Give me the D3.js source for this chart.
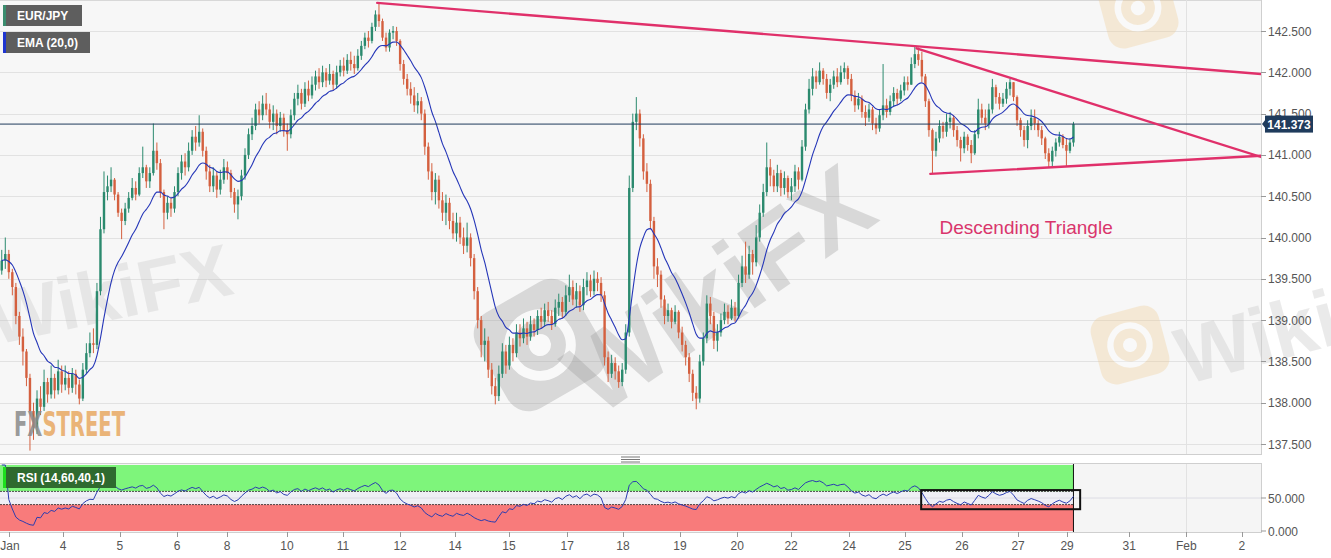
<!DOCTYPE html>
<html><head><meta charset="utf-8">
<script src="https://cdn.jsdelivr.net/npm/d3@7/dist/d3.min.js"></script>
<style>body{margin:0;background:#fff;overflow:hidden}svg{display:block;font-family:Arial,"Liberation Sans",sans-serif}</style>
</head><body><svg id="c" width="1331" height="558"></svg>
<script>
// ---------- DATA ----------
const symbol = "EUR/JPY";
const emaLabel = "EMA (20,0)";
const rsiLabel = "RSI (14,60,40,1)";
const firstOpen = 139.60;
const closes = [
139.72,139.80,139.58,139.40,139.05,138.80,138.62,138.30,137.90,137.70,
138.05,137.95,138.25,138.10,138.30,138.15,138.38,138.22,138.30,138.18,
138.35,138.22,138.05,138.40,138.60,138.72,138.70,139.35,140.10,140.55,
140.62,140.70,140.52,140.30,140.20,140.35,140.48,140.60,140.52,140.78,
140.85,140.68,140.78,141.05,140.90,140.55,140.30,140.42,140.35,140.55,
140.78,140.92,140.85,141.05,141.22,141.15,141.28,141.05,140.80,140.62,
140.75,140.58,140.70,140.85,140.78,140.55,140.40,140.50,140.75,141.00,
141.25,141.35,141.55,141.48,141.62,141.55,141.40,141.50,141.35,141.45,
141.30,141.25,141.48,141.68,141.75,141.62,141.80,141.72,141.85,141.95,
141.88,142.00,141.90,141.98,141.85,142.00,142.08,142.02,142.15,142.10,
142.05,142.20,142.32,142.42,142.38,142.55,142.70,142.62,142.42,142.30,
142.48,142.50,142.38,142.10,141.92,141.80,141.72,141.60,141.65,141.50,
141.10,140.80,140.55,140.70,140.45,140.30,140.42,140.20,140.05,140.18,
140.00,139.90,140.00,139.75,139.35,139.00,138.70,138.75,138.40,138.20,
138.08,138.35,138.62,138.45,138.70,138.60,138.85,138.78,138.90,138.80,
138.95,138.88,139.05,138.98,139.12,139.05,138.95,139.15,139.22,139.10,
139.30,139.40,139.25,139.35,139.18,139.40,139.48,139.35,139.50,139.45,
139.30,138.55,138.35,138.48,138.38,138.25,138.40,138.85,140.60,141.40,
141.50,141.20,140.80,140.65,140.20,139.65,139.55,139.25,139.05,139.12,
138.98,139.10,138.85,138.70,138.55,138.35,138.12,138.05,138.50,138.78,
139.20,139.05,138.75,138.85,139.00,139.10,139.02,139.15,139.05,139.45,
139.65,139.55,139.80,139.70,140.00,140.30,140.55,140.85,140.75,140.62,
140.78,140.60,140.72,140.55,140.62,140.80,140.70,141.10,141.55,141.80,
141.95,141.88,142.02,141.92,141.75,141.85,141.95,141.88,142.00,142.05,
141.92,141.72,141.60,141.68,141.52,141.45,141.55,141.38,141.32,141.48,
141.60,141.52,141.65,141.75,141.68,141.78,141.88,141.85,142.10,142.22,
142.15,141.95,141.65,141.30,141.05,141.20,141.35,141.28,141.40,141.45,
141.30,141.18,141.08,141.22,141.12,141.02,141.25,141.55,141.45,141.38,
141.55,141.82,141.70,141.62,141.68,141.80,141.88,141.70,141.42,141.30,
141.18,141.35,141.45,141.38,141.30,141.20,141.02,140.92,141.05,141.15,
141.22,141.12,141.05,141.15,141.373];
const highs = [
139.85,140.00,139.85,139.62,139.45,139.10,138.90,138.65,138.35,138.00,
138.15,138.20,138.40,138.30,138.45,138.35,138.52,138.45,138.45,138.38,
138.42,138.40,138.28,138.48,138.72,138.85,138.90,139.45,140.25,140.80,
140.75,140.85,140.72,140.55,140.35,140.42,140.55,140.72,140.68,140.85,
141.10,140.88,140.85,141.38,141.15,140.95,140.58,140.50,140.48,140.62,
140.85,141.00,141.02,141.15,141.30,141.35,141.48,141.32,141.10,140.88,
140.85,140.80,140.82,140.95,140.92,140.82,140.60,140.58,140.82,141.08,
141.32,141.45,141.62,141.65,141.72,141.75,141.62,141.60,141.55,141.52,
141.50,141.38,141.55,141.75,141.85,141.80,141.88,141.90,141.95,142.02,
142.05,142.08,142.05,142.10,142.02,142.08,142.15,142.18,142.22,142.25,
142.20,142.28,142.38,142.48,142.50,142.60,142.75,142.84,142.65,142.48,
142.52,142.56,142.55,142.40,142.15,141.98,141.88,141.82,141.75,141.70,
141.55,141.15,140.90,140.78,140.75,140.55,140.52,140.48,140.30,140.30,
140.25,140.12,140.18,140.05,139.80,139.40,139.05,138.90,138.80,138.48,
138.30,138.45,138.72,138.70,138.80,138.78,138.95,138.95,139.02,138.98,
139.05,139.02,139.12,139.15,139.20,139.22,139.12,139.25,139.32,139.28,
139.42,139.55,139.48,139.45,139.42,139.50,139.58,139.55,139.60,139.58,
139.52,139.35,138.62,138.58,138.55,138.45,138.48,138.95,140.75,141.50,
141.70,141.55,141.25,140.90,140.70,140.25,139.75,139.60,139.30,139.20,
139.15,139.18,139.12,138.92,138.75,138.60,138.40,138.20,138.58,138.85,
139.30,139.28,139.10,138.95,139.08,139.20,139.18,139.25,139.22,139.55,
139.78,139.95,139.90,139.85,140.15,140.40,140.65,141.15,140.95,140.82,
140.88,140.82,140.80,140.75,140.72,140.88,140.85,141.18,141.62,141.92,
142.05,142.02,142.12,142.05,141.98,141.92,142.02,142.05,142.08,142.12,
142.08,141.98,141.78,141.75,141.72,141.60,141.62,141.58,141.45,141.55,
142.10,141.68,141.72,141.82,141.80,141.85,141.95,141.95,142.18,142.32,
142.30,142.25,141.98,141.68,141.32,141.28,141.42,141.40,141.50,141.52,
141.48,141.35,141.22,141.28,141.25,141.18,141.30,141.68,141.62,141.55,
141.62,141.92,141.85,141.75,141.75,141.88,141.92,141.88,141.72,141.45,
141.35,141.42,141.55,141.55,141.42,141.35,141.22,141.08,141.10,141.20,
141.28,141.25,141.20,141.20,141.40];
const lows = [
139.55,139.62,139.50,139.30,138.95,138.70,138.45,138.20,137.42,137.55,
137.62,137.85,137.90,138.00,138.05,138.05,138.10,138.12,138.15,138.10,
138.12,138.10,137.98,138.02,138.35,138.55,138.60,138.65,139.30,140.05,
140.45,140.55,140.45,140.25,139.98,140.15,140.30,140.45,140.45,140.50,
140.72,140.60,140.60,140.75,140.82,140.48,140.10,140.22,140.25,140.30,
140.50,140.70,140.75,140.80,141.00,141.05,141.10,140.98,140.70,140.55,
140.55,140.48,140.52,140.65,140.70,140.48,140.30,140.22,140.45,140.70,
140.95,141.18,141.30,141.38,141.42,141.48,141.32,141.30,141.25,141.28,
141.22,141.05,141.20,141.42,141.60,141.55,141.58,141.65,141.68,141.78,
141.80,141.82,141.82,141.85,141.78,141.80,141.95,141.95,141.98,142.02,
141.98,142.02,142.15,142.28,142.30,142.35,142.50,142.55,142.38,142.25,
142.25,142.40,142.32,142.02,141.85,141.72,141.62,141.52,141.50,141.42,
141.00,140.70,140.45,140.40,140.35,140.20,140.15,140.10,139.98,139.95,
139.92,139.80,139.82,139.65,139.25,138.90,138.55,138.50,138.30,138.10,
137.98,138.02,138.30,138.35,138.40,138.50,138.55,138.68,138.72,138.70,
138.75,138.80,138.82,138.90,138.92,138.98,138.88,138.92,139.05,139.02,
139.05,139.22,139.18,139.15,139.10,139.12,139.30,139.28,139.30,139.35,
139.22,138.45,138.25,138.30,138.28,138.18,138.20,138.35,138.80,140.55,
141.30,141.10,140.70,140.55,140.10,139.50,139.40,139.15,138.95,138.98,
138.90,138.95,138.78,138.62,138.45,138.25,138.02,137.92,138.00,138.45,
138.72,138.95,138.65,138.62,138.80,138.95,138.95,139.00,138.98,139.02,
139.40,139.45,139.50,139.55,139.65,139.95,140.25,140.50,140.62,140.55,
140.55,140.50,140.52,140.48,140.45,140.55,140.58,140.68,141.05,141.50,
141.72,141.80,141.85,141.85,141.68,141.65,141.80,141.82,141.85,141.92,
141.85,141.65,141.52,141.55,141.45,141.35,141.40,141.30,141.25,141.28,
141.42,141.45,141.48,141.58,141.60,141.65,141.72,141.78,141.85,142.05,
142.08,141.88,141.58,141.22,140.78,140.98,141.15,141.20,141.22,141.32,
141.22,141.10,140.92,141.02,141.05,140.90,141.00,141.20,141.38,141.30,
141.32,141.50,141.62,141.55,141.58,141.62,141.72,141.65,141.35,141.22,
141.10,141.08,141.30,141.30,141.22,141.12,140.95,140.85,140.85,140.98,
141.10,141.08,140.86,141.02,141.10];
const priceTicks = [137.5,138.0,138.5,139.0,139.5,140.0,140.5,141.0,141.5,142.0,142.5];
const rsiTicks = [0,50];
const rsiLevels = [60,40];
const dateLabels = ["Jan","4","5","6","8","10","11","12","14","15","17","18","19","20","22","24","25","26","27","29","31","Feb","2"];
const dateIndex  = [2.5,17.9,34.0,50.2,64.4,81.4,97.3,113.5,129.1,144.4,160.9,176.7,192.9,209.1,224.4,240.9,256.7,272.9,288.8,302.7,320.3,336.5,352.3];
const monthStartLabel = "Feb";
const lastPrice = 141.373;
// trend lines: [index, price] pairs
const trendUpper  = [[107, 142.84],[357.7, 141.98]];
const trendMiddle = [[260, 142.29],[357.7, 140.975]];
const trendLower  = [[263.9, 140.77],[357.7, 140.99]];
const patternText = "Descending Triangle";
const patternPos = [266.5, 140.04];
const rsiBox = [[261.3, 62],[306.4, 33]];
const emaPeriod = 20, rsiPeriod = 14;
const sourceBarsPerBar = 1.5; // each drawn bar stands for 1.5 of the source (hourly) bars

// ---------- DERIVED ----------
const candles = closes.map((c,i)=>{
  const o = i===0 ? firstOpen : closes[i-1];
  return {i, o, c, h: Math.max(highs[i], o, c), l: Math.min(lows[i], o, c)};
});
const ema = []; {const k = 2/(emaPeriod/sourceBarsPerBar+1); closes.forEach((c,i)=>{ema.push(i===0?c:ema[i-1]+k*(c-ema[i-1]));});}
const rsi = []; {let ag=0, al=0;
  candles.forEach((d,i)=>{const ch=d.c-d.o, g=Math.max(ch,0), l=Math.max(-ch,0);
    if(i<rsiPeriod){ag=(ag*i+g)/(i+1); al=(al*i+l)/(i+1);} else {ag=(ag*(rsiPeriod-1)+g)/rsiPeriod; al=(al*(rsiPeriod-1)+l)/rsiPeriod;}
    rsi.push(al===0?100:100-100/(1+ag/al));});}

// ---------- LAYOUT ----------
const svg = d3.select("#c");
const plotR = 1261, mainBot = 454, rsiTop = 464, rsiBot = 532;
const x = d3.scaleLinear().domain([0,357.7]).range([0,plotR]);
const y = d3.scaleLinear().domain([137.5,142.5]).range([444,31]);
const yr = d3.scaleLinear().domain([0,100]).range([531,465]);
const step = x(1)-x(0);
const xLast = x(closes.length-0.5);
const febX = x(dateIndex[dateLabels.indexOf(monthStartLabel)]);

svg.append("rect").attr("width",1331).attr("height",558).attr("fill","#fff");
// main panel
svg.append("rect").attr("x",0).attr("y",0).attr("width",plotR).attr("height",mainBot).attr("fill","#f7f7f7");
svg.append("line").attr("x1",0).attr("x2",plotR).attr("y1",0.5).attr("y2",0.5).attr("stroke","#d8d8d8");
const defs = svg.append("defs");
defs.append("clipPath").attr("id","mclip").append("rect").attr("x",0).attr("y",0).attr("width",plotR).attr("height",mainBot);
defs.append("clipPath").attr("id","rclip").append("rect").attr("x",0).attr("y",rsiTop).attr("width",plotR).attr("height",rsiBot-rsiTop);
defs.append("clipPath").attr("id","wclip").append("rect").attr("x",0).attr("y",0).attr("width",1331).attr("height",mainBot);

const g = svg.append("g").attr("clip-path","url(#mclip)");
g.selectAll("line.grid").data(priceTicks).join("line")
  .attr("x1",0).attr("x2",plotR).attr("y1",d=>Math.round(y(d))+0.5).attr("y2",d=>Math.round(y(d))+0.5)
  .attr("stroke","#e2e2e2");
g.append("line").attr("x1",Math.round(febX)+0.5).attr("x2",Math.round(febX)+0.5).attr("y1",0).attr("y2",mainBot).attr("stroke","#e2e2e2");

// watermarks
const wm = svg.append("g").attr("clip-path","url(#wclip)").attr("pointer-events","none");
function logo(gx, cx, cy, s, rot, fill, op){
  const lg = gx.append("g").attr("transform",`translate(${cx},${cy}) rotate(${rot})`).attr("opacity",op);
  lg.append("rect").attr("x",-s/2).attr("y",-s/2).attr("width",s).attr("height",s).attr("rx",s*0.22).attr("fill",fill);
  lg.append("circle").attr("r",s*0.28).attr("fill","none").attr("stroke","#fff").attr("stroke-width",s*0.09);
  lg.append("circle").attr("r",s*0.1).attr("fill","#fff");
}
logo(wm, 540, 345, 110, -30, "#9a9a9a", 0.33);
wm.append("text").attr("transform","translate(598,418) rotate(-35)").attr("font-size",104).attr("font-weight","bold")
  .attr("fill","#9a9a9a").attr("opacity",0.32).text("WikiFX");
wm.append("text").attr("transform","translate(-5,345) rotate(-12)").attr("font-size",74).attr("font-weight","bold")
  .attr("fill","#bdbdbd").attr("opacity",0.28).text("WikiFX");
logo(wm, 1130, 345, 70, -15, "#f0c98a", 0.3);
wm.append("text").attr("transform","translate(1185,385) rotate(-15)").attr("font-size",80).attr("font-weight","bold")
  .attr("fill","#bdbdbd").attr("opacity",0.3).text("Wiki");
logo(wm, 1138, 8, 72, -15, "#f0c98a", 0.3);

const g2 = svg.append("g").attr("clip-path","url(#mclip)");
// candles
const cg = g2.append("g");
cg.selectAll("line.w").data(candles).join("line")
  .attr("x1",d=>x(d.i+0.5)).attr("x2",d=>x(d.i+0.5)).attr("y1",d=>y(d.h)).attr("y2",d=>y(d.l))
  .attr("stroke",d=>d.c>=d.o?"#2b8a6e":"#d4603f").attr("stroke-width",1);
const bw = step*0.68;
cg.selectAll("rect.b").data(candles).join("rect")
  .attr("x",d=>x(d.i+0.5)-bw/2).attr("width",bw)
  .attr("y",d=>y(Math.max(d.o,d.c))).attr("height",d=>Math.max(1,Math.abs(y(d.o)-y(d.c))))
  .attr("fill",d=>d.c>=d.o?"#2b8a6e":"#d4603f");

// EMA
g2.append("path").datum(ema).attr("fill","none").attr("stroke","#2536b8").attr("stroke-width",1.1)
  .attr("d",d3.line().x((d,i)=>x(i+0.5)).y(d=>y(d)).curve(d3.curveMonotoneX));
// last price line
g2.append("line").attr("x1",0).attr("x2",plotR).attr("y1",y(lastPrice)).attr("y2",y(lastPrice)).attr("stroke","#1f3b5c").attr("stroke-width",1);
// trend lines
[trendUpper,trendMiddle,trendLower].forEach(t=>{
  g2.append("line").attr("x1",x(t[0][0])).attr("y1",y(t[0][1])).attr("x2",x(t[1][0])).attr("y2",y(t[1][1]))
   .attr("stroke","#e0306a").attr("stroke-width",2.4).attr("stroke-linecap","round");
});
g2.append("text").attr("x",x(patternPos[0])).attr("y",y(patternPos[1])).attr("font-size",19).attr("fill","#d9356c").text(patternText);

// FXSTREET
const fx = g2.append("text").attr("x",14).attr("y",436).attr("font-size",33).attr("font-weight","bold")
  .attr("font-family","'DejaVu Sans Condensed','Liberation Sans Narrow',Arial,sans-serif")
  .attr("textLength",111).attr("lengthAdjust","spacingAndGlyphs").attr("opacity",0.85);
fx.append("tspan").attr("fill","#8a8a8a").text("FX");
fx.append("tspan").attr("fill","#e8a962").text("STREET");

// legend boxes
function legendBox(yy, w, col, txt){
  svg.append("rect").attr("x",3).attr("y",yy).attr("width",w).attr("height",21).attr("fill","#5e5e5e");
  svg.append("rect").attr("x",3).attr("y",yy).attr("width",3).attr("height",21).attr("fill",col);
  svg.append("text").attr("x",17).attr("y",yy+15).attr("fill","#fff").attr("font-size",12).attr("font-weight","bold").text(txt);
}
legendBox(5, 79, "#3a8c6e", symbol);
legendBox(32, 87, "#1f35d0", emaLabel);

// right axis main
svg.append("line").attr("x1",plotR+0.5).attr("x2",plotR+0.5).attr("y1",0).attr("y2",mainBot).attr("stroke","#cfcfcf");
svg.append("line").attr("x1",0).attr("x2",plotR+1).attr("y1",mainBot+0.5).attr("y2",mainBot+0.5).attr("stroke","#cfcfcf");
const ax = svg.append("g");
ax.selectAll("line").data(priceTicks).join("line").attr("x1",plotR).attr("x2",plotR+5)
  .attr("y1",d=>Math.round(y(d))+0.5).attr("y2",d=>Math.round(y(d))+0.5).attr("stroke","#999");
ax.selectAll("text").data(priceTicks).join("text").attr("x",plotR+7).attr("y",d=>y(d)+4.5)
  .attr("font-size",12).attr("fill","#555").text(d3.format(".3f"));
// last price label
const ly = y(lastPrice);
svg.append("path").attr("d",`M${plotR+1},${ly} L${plotR+5},${ly-5} L${plotR+5},${ly+5}Z`).attr("fill","#1f3b5c");
svg.append("rect").attr("x",plotR+4).attr("y",ly-8.5).attr("width",48).attr("height",17).attr("fill","#1f3b5c");
svg.append("text").attr("x",plotR+28).attr("y",ly+4.5).attr("text-anchor","middle").attr("fill","#fff")
  .attr("font-size",12).attr("font-weight","bold").text(d3.format(".3f")(lastPrice));

// separator grip
[457,459.5,462].forEach(v=>svg.append("line").attr("x1",621).attr("x2",640).attr("y1",v).attr("y2",v).attr("stroke","#777").attr("stroke-width",1));

// RSI panel
svg.append("rect").attr("x",0).attr("y",rsiTop).attr("width",plotR).attr("height",rsiBot-rsiTop).attr("fill","#f5f5f5");
svg.append("line").attr("x1",0).attr("x2",plotR+1).attr("y1",rsiTop-0.5).attr("y2",rsiTop-0.5).attr("stroke","#cfcfcf");
const r = svg.append("g").attr("clip-path","url(#rclip)");
r.append("rect").attr("x",0).attr("width",xLast).attr("y",yr(100)).attr("height",yr(rsiLevels[0])-yr(100)).attr("fill","#7ef57b");
r.append("rect").attr("x",0).attr("width",xLast).attr("y",yr(rsiLevels[0])).attr("height",yr(rsiLevels[1])-yr(rsiLevels[0])).attr("fill","#efeff5");
r.append("rect").attr("x",0).attr("width",xLast).attr("y",yr(rsiLevels[1])).attr("height",yr(0)-yr(rsiLevels[1])).attr("fill","#f87b7b");
r.selectAll("line.rg").data([50]).join("line").attr("x1",0).attr("x2",plotR).attr("y1",d=>yr(d)).attr("y2",d=>yr(d)).attr("stroke","#dcdce4");
r.append("line").attr("x1",Math.round(febX)+0.5).attr("x2",Math.round(febX)+0.5).attr("y1",rsiTop).attr("y2",rsiBot).attr("stroke","#e2e2e2");
rsiLevels.forEach(v=>r.append("line").attr("x1",0).attr("x2",xLast).attr("y1",yr(v)).attr("y2",yr(v)).attr("stroke","#222").attr("stroke-dasharray","2,1").attr("stroke-width",0.8));
r.append("line").attr("x1",xLast).attr("x2",xLast).attr("y1",rsiTop).attr("y2",rsiBot).attr("stroke","#111").attr("stroke-width",1);
r.append("path").datum(rsi).attr("fill","none").attr("stroke","#2a3cb0").attr("stroke-width",1)
  .attr("d",d3.line().x((d,i)=>x(i+0.5)).y(d=>yr(d)));
svg.append("rect").attr("x",x(rsiBox[0][0])).attr("y",yr(rsiBox[0][1])).attr("width",x(rsiBox[1][0])-x(rsiBox[0][0]))
  .attr("height",yr(rsiBox[1][1])-yr(rsiBox[0][1])).attr("fill","none").attr("stroke","#111").attr("stroke-width",2);
svg.append("rect").attr("x",3).attr("y",467).attr("width",113).attr("height",21).attr("fill","#2f6a2f");
svg.append("rect").attr("x",3).attr("y",467).attr("width",3).attr("height",21).attr("fill","#1de01d");
svg.append("text").attr("x",17).attr("y",482).attr("fill","#fff").attr("font-size",12).attr("font-weight","bold").text(rsiLabel);
svg.append("line").attr("x1",plotR+0.5).attr("x2",plotR+0.5).attr("y1",rsiTop).attr("y2",rsiBot).attr("stroke","#cfcfcf");
svg.append("line").attr("x1",0).attr("x2",plotR+1).attr("y1",rsiBot+0.5).attr("y2",rsiBot+0.5).attr("stroke","#cfcfcf");
svg.selectAll("line.rt").data(rsiTicks).join("line").attr("x1",plotR).attr("x2",plotR+5).attr("y1",d=>yr(d)).attr("y2",d=>yr(d)).attr("stroke","#999");
svg.selectAll("text.rt").data(rsiTicks).join("text").attr("x",plotR+7).attr("y",d=>yr(d)+4.5).attr("font-size",12).attr("fill","#555").text(d3.format(".3f"));

// x axis
svg.selectAll("line.xt").data(dateIndex).join("line").attr("x1",d=>Math.round(x(d))+0.5).attr("x2",d=>Math.round(x(d))+0.5)
  .attr("y1",rsiBot).attr("y2",rsiBot+5).attr("stroke","#999");
svg.selectAll("text.xt").data(dateLabels).join("text").attr("x",(d,i)=>Math.max(10,x(dateIndex[i]))).attr("y",550)
  .attr("text-anchor","middle").attr("font-size",12).attr("fill","#555").text(d=>d);
</script></body></html>
